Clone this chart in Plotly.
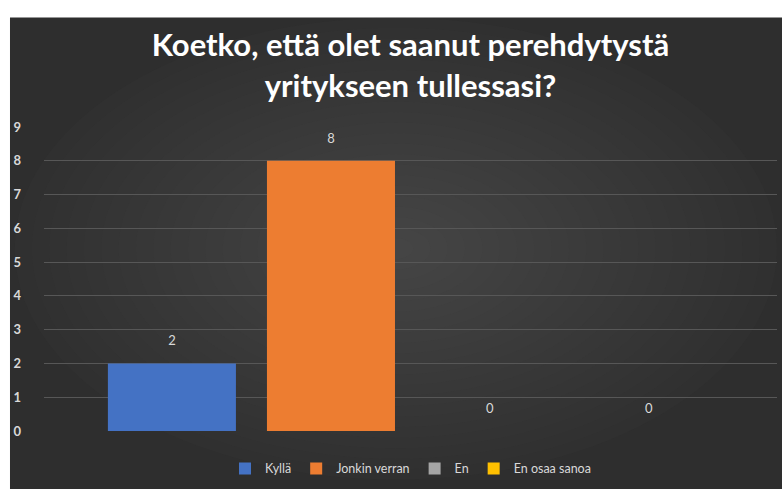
import plotly.graph_objects as go

title_text = "Koetko, että olet saanut perehdytystä<br>yritykseen tullessasi?"
category = [""]
series_names = ["Kyllä", "Jonkin verran", "En", "En osaa sanoa"]
series_values = [2, 8, 0, 0]
series_colors = ["#4472C4", "#ED7D31", "#A5A5A5", "#FFC000"]
y_ticks = [0, 1, 2, 3, 4, 5, 6, 7, 8, 9]

fig = go.Figure()
for name, val, col in zip(series_names, series_values, series_colors):
    fig.add_trace(go.Bar(
        x=category, y=[val], name=name,
        marker=dict(color=col, line=dict(width=0)),
        text=[f"<span style='font-size:13px'>{val}</span><br> "],
        textposition="outside", cliponaxis=False,
        textfont=dict(color="#d9d9d9", size=10, family="Lato"),
    ))

# background: dark panel with soft radial highlight
X0, X1, Y0, Y1 = -0.0464, 1.06, -0.35, 1.36
shapes = [dict(type="rect", xref="paper", yref="paper",
               x0=X0, x1=X1, y0=Y0, y1=Y1,
               fillcolor="#2e2e2e", line=dict(width=0), layer="below")]
n = 22
cx, cy = 0.48, 0.6
for i in range(n):
    f = 1 - i / n
    shapes.append(dict(type="circle", xref="paper", yref="paper",
                       x0=cx - 0.52 * f, x1=cx + 0.52 * f,
                       y0=cy - 0.76 * f, y1=cy + 0.76 * f,
                       fillcolor="rgba(92,92,92,0.045)", line=dict(width=0), layer="below"))

fig.update_layout(
    width=782, height=489,
    margin=dict(l=44, r=5, t=127, b=52),
    paper_bgcolor="white", plot_bgcolor="rgba(0,0,0,0)",
    barmode="group", bargap=0.132, bargroupgap=0.195,
    shapes=shapes,
    title=dict(text=title_text, x=0.5, xref="paper", xanchor="center",
               y=0.885, yanchor="middle",
               font=dict(family="Lato", size=31, color="white", weight="bold")),
    showlegend=True,
    legend=dict(orientation="h", x=0.5, xanchor="center", y=-0.075, yanchor="top",
                font=dict(family="Lato", size=12.5, color="#d9d9d9"),
                bgcolor="rgba(0,0,0,0)", itemwidth=30),
    font=dict(family="Lato", color="#d9d9d9"),
)
fig.update_yaxes(range=[0, 9], tickvals=y_ticks, showgrid=True, gridcolor="#575757",
                 gridwidth=1, zeroline=False, showline=False, ticks="",
                 tickfont=dict(family="Lato", size=13, color="#d9d9d9", weight="bold"),
                 ticklabelstandoff=22)
fig.update_xaxes(showticklabels=False, showline=False, ticks="", showgrid=False)

fig.write_html("out.html", config={"displayModeBar": False},
               post_script="document.body.style.margin='0';document.body.style.overflow='hidden';")
